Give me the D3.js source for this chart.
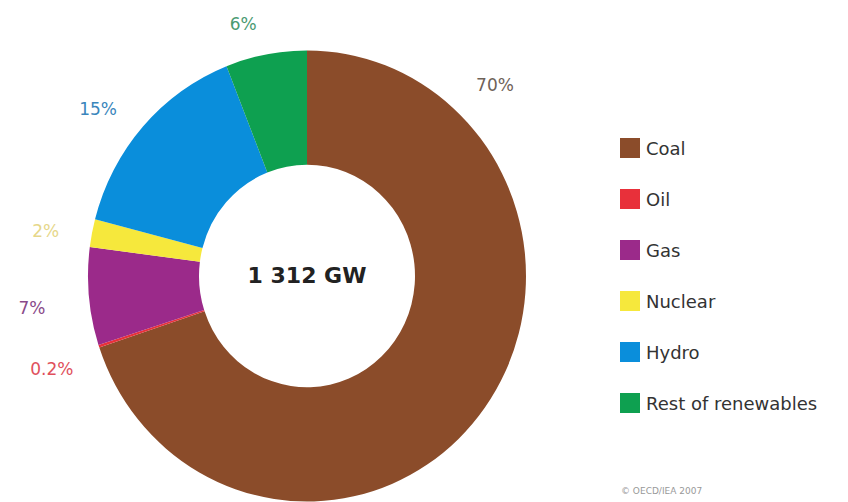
<!DOCTYPE html>
<html>
<head>
<meta charset="utf-8">
<script src="https://cdn.jsdelivr.net/npm/d3@7"></script>
<style>
  body { margin: 0; background: #fff; }
</style>
</head>
<body>
<div id="chart"></div>
<script>
// data
const categories = ["Coal", "Oil", "Gas", "Nuclear", "Hydro", "Rest of renewables"];
const shares = [70, 0.2, 7, 2, 15, 6];
const shareLabels = ["70%", "0.2%", "7%", "2%", "15%", "6%"];
const colors = ["#8b4c2a", "#e8303a", "#9b2a8a", "#f6e83c", "#0a8edb", "#0ea050"];
const labelColors = ["#6e6258", "#e0505c", "#8a4a8a", "#e6d78a", "#3a86bc", "#4a9a72"];
const total = "1 312 GW";

const width = 848;
const height = 502;
const cx = 307, cy = 276;
const outerR = 219, innerR = 108;
const yStretch = 1.03;

const svg = d3.select("#chart")
  .append("svg")
  .attr("width", width)
  .attr("height", height)
  .style("font-family", "'DejaVu Sans', sans-serif");

const pie = d3.pie().sort(null).value((d) => d);
const arcs = pie(shares);
const arc = d3.arc().innerRadius(innerR).outerRadius(outerR);

// the donut is slightly taller than wide in the reference
const g = svg.append("g")
  .attr("transform", `translate(${cx},${cy}) scale(1,${yStretch})`);

g.selectAll("path")
  .data(arcs)
  .enter()
  .append("path")
  .attr("d", arc)
  .attr("fill", (d, i) => colors[i]);

// percentage labels outside the ring, rotated a bit off the slice middle
const labelR = [267, 272, 277, 265, 267, 259];
const labelShift = [-81, -2.1, -1.6, -1.4, -3, -3.5]; // degrees
const labelAngle = (d, i) => (d.startAngle + d.endAngle) / 2 + labelShift[i] * Math.PI / 180;

svg.selectAll("text.pct")
  .data(arcs)
  .enter()
  .append("text")
  .attr("class", "pct")
  .attr("x", (d, i) => cx + labelR[i] * Math.sin(labelAngle(d, i)))
  .attr("y", (d, i) => cy - labelR[i] * Math.cos(labelAngle(d, i)))
  .attr("text-anchor", "middle")
  .attr("dominant-baseline", "middle")
  .style("font-size", "17px")
  .attr("fill", (d, i) => labelColors[i])
  .text((d, i) => shareLabels[i]);

// centre total
svg.append("text")
  .attr("x", cx)
  .attr("y", cy + 7)
  .attr("text-anchor", "middle")
  .style("font-size", "22px")
  .style("font-weight", "bold")
  .attr("fill", "#222")
  .text(total);

// legend
const legend = svg.selectAll("g.legend")
  .data(categories)
  .enter()
  .append("g")
  .attr("class", "legend")
  .attr("transform", (d, i) => `translate(620,${138 + i * 51})`);

legend.append("rect")
  .attr("width", 20)
  .attr("height", 20)
  .attr("fill", (d, i) => colors[i]);

legend.append("text")
  .attr("x", 26)
  .attr("y", 17)
  .style("font-size", "18px")
  .attr("fill", "#333")
  .text((d) => d);

svg.append("text")
  .attr("x", 621)
  .attr("y", 494)
  .style("font-size", "9px")
  .attr("fill", "#999")
  .text("© OECD/IEA 2007");
</script>
</body>
</html>
